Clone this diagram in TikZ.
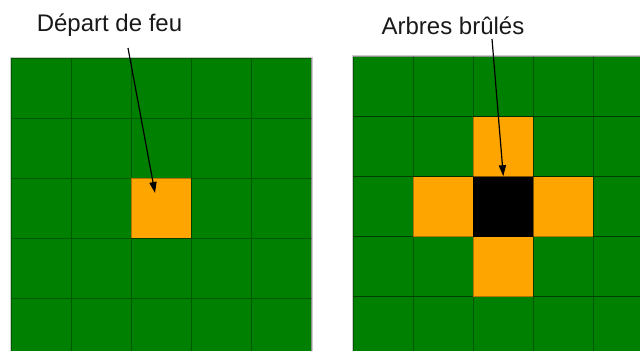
\documentclass[tikz,border=0pt]{standalone}
\usepackage{fontspec}
\setmainfont{Liberation Sans}
\usetikzlibrary{arrows.meta}

\begin{document}
\begin{tikzpicture}[
  x=0.5pt, y=-0.5pt,
  cellule/.style={fill={rgb,255:red,0;green,128;blue,0}, draw=black, draw opacity=0.3, line width=0.5pt},
  feu/.style={cellule, fill={rgb,255:red,255;green,165;blue,0}, minimum size=30pt, inner sep=0pt},
  brule/.style={feu, fill=black},
  legende/.style={font=\fontsize{12}{14}\selectfont, text=black!90, inner sep=0pt, anchor=base},
  fleche/.style={-{Triangle[length=5.5pt,width=3.6pt]}, line width=0.6pt}]
\useasboundingbox (0,0) rectangle (640,351);
\clip (0,0) rectangle (640,351);
% the two forests
\draw[black!20, line width=1pt] (10.5,57.8) rectangle (311.5,400);
\draw[black!20, line width=1pt] (352.8,56.2) rectangle (700,400);
\foreach \i in {0,...,4}
  \foreach \j in {0,...,4} {
    \draw[cellule] (11+60*\i,58.3+60*\j) rectangle ++(60,60);
    \draw[cellule] (353.3+60*\i,56.7+60*\j) rectangle ++(60,60);
  }
% burning cells
\node[feu] (depart) at (161,208.3) {};
\node[feu] (haut) at (503.3,146.7) {};
\node[feu] (gauche) at (443.3,206.7) {};
\node[feu] (droite) at (563.3,206.7) {};
\node[feu] (bas) at (503.3,266.7) {};
\node[brule] (cendre) at (503.3,206.7) {};
% labels
\node[legende] (lblDepart) at (109.5,32) {Départ de feu};
\node[legende] (lblBrules) at (453,35) {Arbres brûlés};
\draw[fleche] ([shift={(18.5,16)}]lblDepart.base) -- ([shift={(-6,-15.3)}]depart.center);
\draw[fleche] ([shift={(39,4)}]lblBrules.base) -- (cendre.north);
\end{tikzpicture}
\end{document}
